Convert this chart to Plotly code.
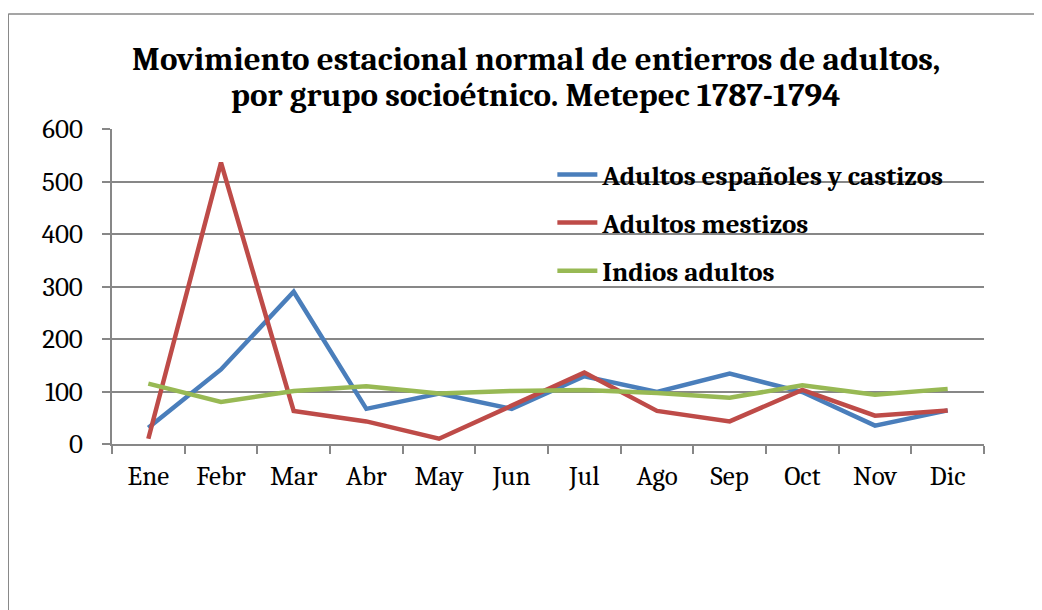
import plotly.graph_objects as go

meses = ["Ene", "Febr", "Mar", "Abr", "May", "Jun", "Jul", "Ago", "Sep", "Oct", "Nov", "Dic"]
espanoles_castizos = [31, 142, 290, 67, 96, 67, 129, 99, 134, 99, 35, 64]
mestizos = [10, 536, 63, 43, 10, 74, 136, 63, 43, 103, 54, 64]
indios = [115, 80, 101, 110, 96, 101, 103, 97, 88, 112, 94, 105]

SERIF = "Cambria, 'DejaVu Serif', serif"
GRID = "#878787"

fig = go.Figure()

series = [
    ("Adultos españoles y castizos", espanoles_castizos, "#4a7ebb"),
    ("Adultos mestizos", mestizos, "#be4b48"),
    ("Indios adultos", indios, "#98b954"),
]
for name, vals, color in series:
    fig.add_trace(go.Scatter(
        x=meses, y=vals, name=name, mode="lines",
        legendgroup=name,
        line=dict(color=color, width=4.5),
    ))

# chart frame (left and top edges visible in the picture)
fig.add_shape(type="line", xref="paper", yref="paper", x0=-0.119, x1=1.2, y0=1.365, y1=1.365,
              line=dict(color=GRID, width=1.5))
fig.add_shape(type="line", xref="paper", yref="paper", x0=-0.119, x1=-0.119, y0=1.365, y1=-0.6,
              line=dict(color=GRID, width=1.5))

# second title line, tighter spacing than plotly's own <br>
fig.add_annotation(
    text="<b>por grupo socioétnico. Metepec 1787-1794</b>",
    xref="paper", yref="paper", x=0.486, y=1.108,
    xanchor="center", yanchor="middle", showarrow=False,
    font=dict(family=SERIF, size=33, color="black"),
)

fig.update_layout(
    width=1042, height=610,
    margin=dict(l=104, r=66, t=121, b=174),
    paper_bgcolor="white", plot_bgcolor="white",
    title=dict(
        text="<b>Movimiento estacional normal de entierros de adultos,</b>",
        font=dict(family=SERIF, size=33, color="black"),
        x=0.507, xanchor="center", y=0.918, yanchor="middle",
    ),
    font=dict(family=SERIF, color="black"),
    xaxis=dict(
        range=[-0.5, 11.5],
        showline=True, linecolor=GRID, linewidth=1.5,
        ticks="outside", tickson="boundaries", ticklen=8, tickcolor=GRID, tickwidth=1.5,
        tickfont=dict(size=27, family=SERIF), showgrid=False,
        ticklabelstandoff=7,
    ),
    yaxis=dict(
        range=[0, 600], dtick=100,
        showline=True, linecolor=GRID, linewidth=1.5,
        ticks="outside", ticklen=8, tickcolor=GRID, tickwidth=1.5,
        showgrid=True, gridcolor=GRID, gridwidth=1.5,
        zeroline=False,
        tickfont=dict(size=27, family=SERIF),
        ticklabelstandoff=14,
    ),
    legend=dict(
        x=0.505, y=0.932, xanchor="left", yanchor="top",
        bgcolor="rgba(0,0,0,0)",
        font=dict(size=27, family=SERIF, color="black", weight="bold"),
        tracegroupgap=10, itemwidth=40,
    ),
)

fig.write_html("out.html")
